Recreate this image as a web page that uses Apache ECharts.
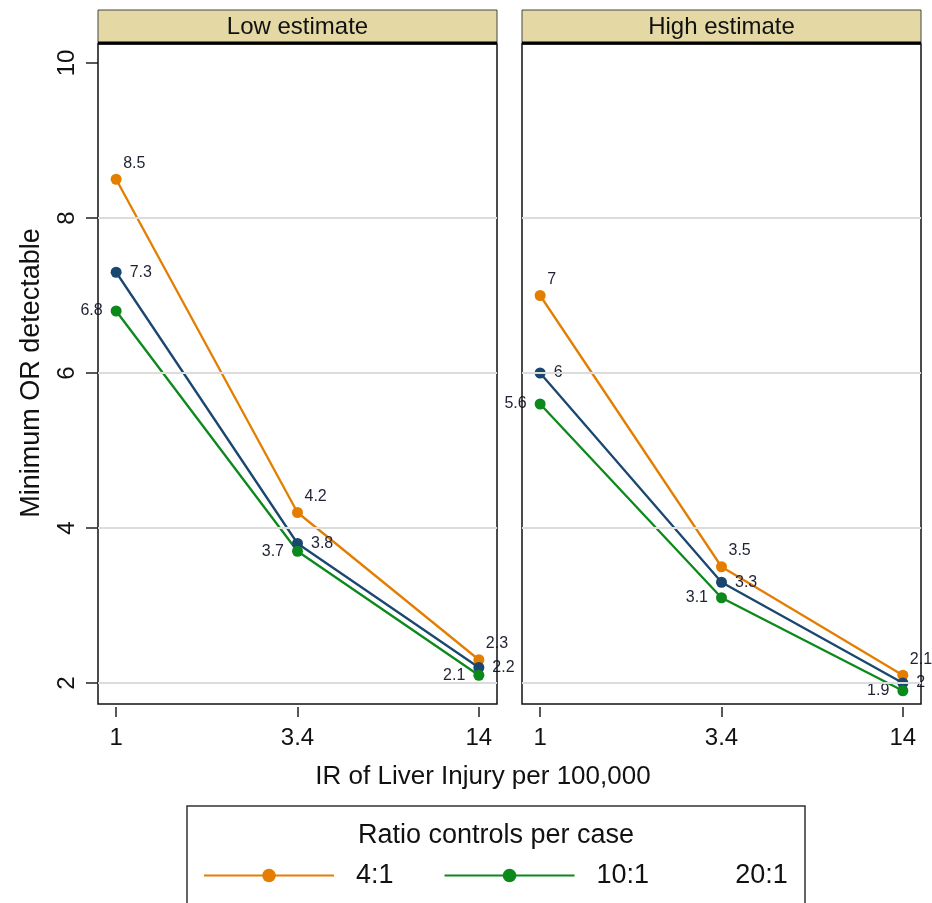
<!DOCTYPE html>
<html><head><meta charset="utf-8">
<script src="https://cdn.jsdelivr.net/npm/echarts@6/dist/echarts.min.js"></script>
<style>html,body{margin:0;padding:0;background:#fff}#c{width:932px;height:903px}</style>
</head><body><div id="c"></div>
<script>
// ---- data ----
const xLabels = ['1', '3.4', '14'];
const panelTitles = ['Low estimate', 'High estimate'];
const seriesNames = ['4:1', '20:1', '10:1'];
const gridVals = [2, 4, 6, 8];
const low_4to1 = [8.5, 4.2, 2.3];
const low_20to1 = [7.3, 3.8, 2.2];
const low_10to1 = [6.8, 3.7, 2.1];
const high_4to1 = [7, 3.5, 2.1];
const high_20to1 = [6, 3.3, 2];
const high_10to1 = [5.6, 3.1, 1.9];

const colors = {'4:1': '#e37e00', '20:1': '#1a476f', '10:1': '#0b8a1b'};
const labelPos = {
  '4:1': {position: [12.5, -10.5], align: 'left', verticalAlign: 'middle'},
  '20:1': {position: 'right', distance: 8},
  '10:1': {position: 'left', distance: 8}
};
const panelData = [
  {'4:1': low_4to1, '20:1': low_20to1, '10:1': low_10to1},
  {'4:1': high_4to1, '20:1': high_20to1, '10:1': high_10to1}
];

const ff = 'Liberation Sans, Arial, sans-serif';
const textCol = '#111';
// grid spans the panel box horizontally and the 2..10 range vertically
const gridsPos = [{left: 98, top: 63, width: 399, height: 620}, {left: 522, top: 63, width: 399, height: 620}];
const boxTop = 44, boxBottom = 704;

const grid = gridsPos.map(g => Object.assign({show: false}, g));
const xAxis = gridsPos.map((g, i) => ({
  type: 'value', gridIndex: i, min: -0.1, max: 2.1, position: 'bottom',
  offset: boxBottom - (g.top + g.height) + 3,
  axisLine: {show: false, onZero: false}, splitLine: {show: false},
  axisTick: {show: true, length: 10, lineStyle: {color: '#222', width: 1.5}, customValues: [0, 1, 2]},
  axisLabel: {customValues: [0, 1, 2], formatter: v => xLabels[Math.round(v)], fontSize: 24, color: textCol, margin: 19, fontFamily: ff}
}));
const yAxis = gridsPos.map((g, i) => ({
  type: 'value', gridIndex: i, min: 2, max: 10, interval: 2, show: i === 0,
  axisLine: {show: false, onZero: false}, splitLine: {show: false},
  axisTick: {show: true, length: 12, lineStyle: {color: '#222', width: 1.5}},
  axisLabel: {rotate: 90, fontSize: 24, color: textCol, margin: 19, fontFamily: ff},
  name: i === 0 ? 'Minimum OR detectable' : '', nameLocation: 'middle', nameGap: 53, nameRotate: 90,
  nameTextStyle: {fontSize: 27, color: textCol, fontFamily: ff}
}));

const series = [];
gridsPos.forEach((g, i) => {
  series.push({
    type: 'line', xAxisIndex: i, yAxisIndex: i, data: [], z: 1, silent: true,
    markLine: {silent: true, symbol: ['none', 'none'], label: {show: false},
      lineStyle: {color: '#dcdcdc', width: 2, type: 'solid'},
      data: gridVals.map(v => ({yAxis: v}))}
  });
  seriesNames.forEach(n => {
    series.push({
      name: n, type: 'line', xAxisIndex: i, yAxisIndex: i, z: 3, clip: false,
      data: panelData[i][n].map((v, k) => [k, v]),
      symbol: 'circle', symbolSize: 11, showAllSymbol: true,
      itemStyle: {color: colors[n]},
      lineStyle: {color: colors[n], width: 2.3},
      label: Object.assign({show: true, fontSize: 16, color: '#1e2233', fontFamily: ff,
        formatter: p => String(p.value[1])}, labelPos[n])
    });
  });
});

const graphic = [];
gridsPos.forEach((g, i) => {
  graphic.push({type: 'rect', shape: {x: g.left, y: boxTop, width: g.width, height: boxBottom - boxTop}, style: {fill: 'none', stroke: '#111', lineWidth: 1.5}, z: 5});
  graphic.push({type: 'rect', shape: {x: g.left, y: 10, width: g.width, height: 34}, style: {fill: '#e4d9a5', stroke: '#444', lineWidth: 1}, z: 10});
  graphic.push({type: 'line', shape: {x1: g.left, y1: 43, x2: g.left + g.width, y2: 43}, style: {stroke: '#000', lineWidth: 3}, z: 11});
  graphic.push({type: 'text', x: g.left + g.width / 2, y: 27, style: {text: panelTitles[i], font: '24px ' + ff, fill: textCol, textAlign: 'center', textVerticalAlign: 'middle'}, z: 12});
});
graphic.push({type: 'text', x: 483, y: 777, style: {text: 'IR of Liver Injury per 100,000', font: '26px ' + ff, fill: textCol, textAlign: 'center', textVerticalAlign: 'middle'}});
graphic.push({type: 'rect', shape: {x: 187, y: 806, width: 618, height: 130}, style: {fill: 'none', stroke: '#333', lineWidth: 1.5}});
graphic.push({type: 'text', x: 496, y: 836, style: {text: 'Ratio controls per case', font: '27px ' + ff, fill: textCol, textAlign: 'center', textVerticalAlign: 'middle'}});

const legend = [
  {data: ['4:1', '10:1'], left: 203, top: 862, padding: 0, itemWidth: 130, itemHeight: 17, itemGap: 50,
   textStyle: {fontSize: 27, color: textCol, fontFamily: ff, padding: [0, 0, 0, 17]}, selectedMode: false},
  {data: [{name: '20:1', itemStyle: {opacity: 0}, lineStyle: {opacity: 0}}], left: 723, top: 862, padding: 0,
   itemWidth: 1, itemHeight: 17, textStyle: {fontSize: 27, color: textCol, fontFamily: ff}, selectedMode: false}
];

const chart = echarts.init(document.getElementById('c'));
chart.setOption({animation: false, backgroundColor: '#fff', grid, xAxis, yAxis, series, graphic, legend});
</script></body></html>
